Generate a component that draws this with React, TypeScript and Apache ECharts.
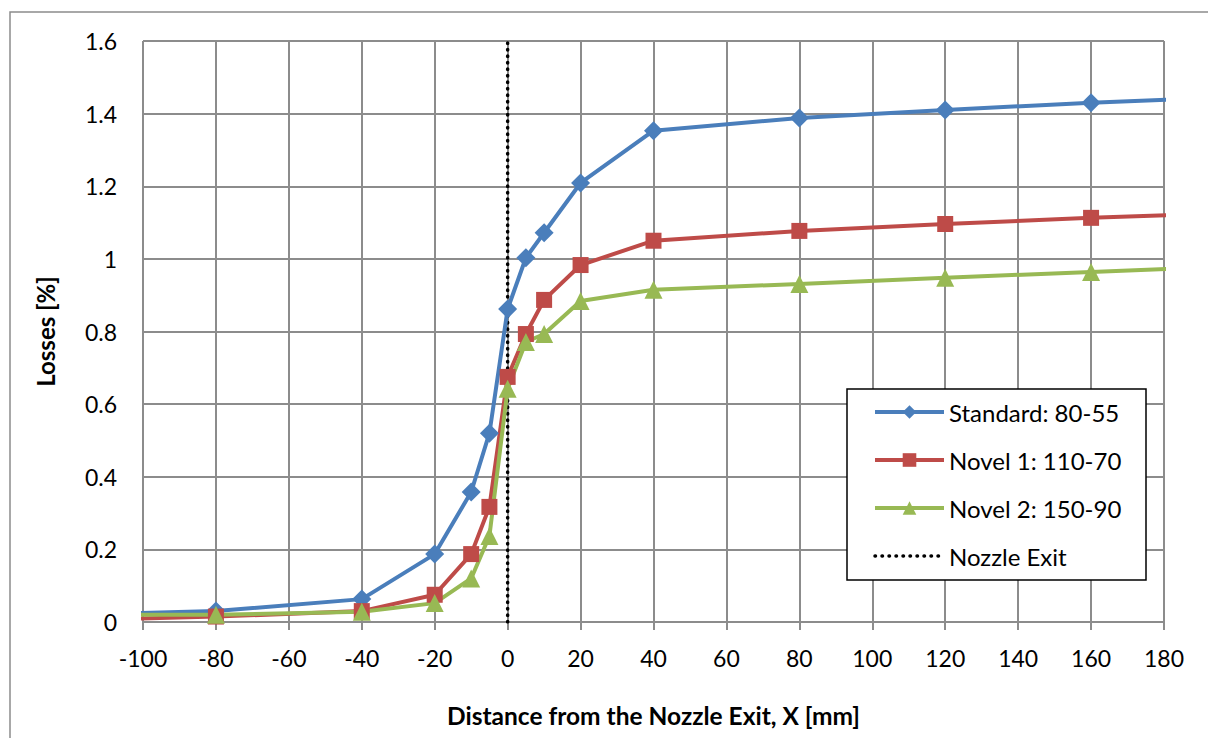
import React, { useEffect, useRef } from "react";
import * as echarts from "echarts";

const xValues = [-120, -80, -40, -20, -10, -5, 0, 5, 10, 20, 40, 80, 120, 160, 200];
const standardLoss = [0.02, 0.03, 0.063, 0.187, 0.358, 0.52, 0.862, 1.003, 1.072, 1.209, 1.353, 1.388, 1.41, 1.43, 1.446];
const novel1Loss = [0.005, 0.015, 0.03, 0.075, 0.187, 0.317, 0.675, 0.793, 0.887, 0.983, 1.05, 1.077, 1.096, 1.113, 1.127];
const novel2Loss = [0.02, 0.02, 0.028, 0.052, 0.12, 0.237, 0.642, 0.771, 0.793, 0.884, 0.915, 0.931, 0.948, 0.964, 0.98];
const nozzleX = [0, 0];
const nozzleY = [0, 1.6];

const seriesNames = ["Standard: 80-55", "Novel 1: 110-70", "Novel 2: 150-90", "Nozzle Exit"];
const colors = ["#4A7EBB", "#BE4B48", "#98B954", "#000000"];

const FONT = "Lato";
const FS = 23;

export default function App() {
  const ref = useRef<HTMLDivElement>(null);
  useEffect(() => {
    document.body.style.margin = "0";
    const chart = echarts.init(ref.current!, null, { renderer: "svg" });
    const pair = (ys: number[]) => xValues.map((x, i) => [x, ys[i]]);
    const mk = (name: string, ys: number[], color: string, symbol: string, size: number) => ({
      name,
      type: "line",
      data: pair(ys),
      symbol,
      symbolSize: size,
      clip: true,
      itemStyle: { color },
      lineStyle: { color, width: 4 },
      z: 2,
    });
    chart.setOption({
      animation: false,
      textStyle: { fontFamily: FONT },
      grid: { left: 143, top: 41, width: 1021, height: 581 },
      graphic: [
        {
          type: "rect",
          shape: { x: 10, y: 12, width: 1240, height: 760 },
          style: { fill: "none", stroke: "#8c8c8c", lineWidth: 1.5 },
          silent: true,
          z: 0,
        },
        {
          type: "rect",
          shape: { x: 847, y: 389, width: 299, height: 191 },
          style: { fill: "#fff", stroke: "#000", lineWidth: 1.5 },
          silent: true,
          z: 3,
        },
      ],
      xAxis: {
        type: "value",
        min: -100,
        max: 180,
        interval: 20,
        name: "Distance from the Nozzle Exit, X [mm]",
        nameLocation: "middle",
        nameGap: 81,
        nameTextStyle: { fontSize: 24.5, fontWeight: "bold", color: "#000", fontFamily: FONT },
        axisLine: { show: true, lineStyle: { color: "#8c8c8c", width: 2 } },
        axisTick: { show: true, length: 8, lineStyle: { color: "#8c8c8c", width: 2 } },
        axisLabel: { fontSize: FS, color: "#000", margin: 24, fontFamily: FONT },
        splitLine: { show: true, lineStyle: { color: "#8c8c8c", width: 2 } },
      },
      yAxis: {
        type: "value",
        min: 0,
        max: 1.6,
        interval: 0.2,
        name: "Losses [%]",
        nameLocation: "middle",
        nameGap: 86,
        nameRotate: 90,
        nameTextStyle: { fontSize: 24, fontWeight: "bold", color: "#000", fontFamily: FONT },
        axisLine: { show: true, lineStyle: { color: "#8c8c8c", width: 2 } },
        axisTick: { show: false },
        axisLabel: { fontSize: FS, color: "#000", margin: 26, fontFamily: FONT },
        splitLine: { show: true, lineStyle: { color: "#8c8c8c", width: 2 } },
      },
      legend: {
        orient: "vertical",
        left: 873,
        top: 400,
        padding: 0,
        itemGap: 24,
        itemWidth: 69,
        itemHeight: 17,
        z: 4,
        textStyle: { fontSize: 24, lineHeight: 24, color: "#000", fontFamily: FONT },
        data: [
          { name: seriesNames[0], lineStyle: { width: 4 } },
          { name: seriesNames[1], lineStyle: { width: 4 } },
          { name: seriesNames[2], lineStyle: { width: 4 } },
          { name: seriesNames[3], itemStyle: { opacity: 0 }, lineStyle: { width: 3.5, type: [0.5, 6.5], cap: "round" } },
        ],
      },
      series: [
        mk(seriesNames[0], standardLoss, colors[0], "diamond", 19),
        mk(seriesNames[1], novel1Loss, colors[1], "rect", 16),
        mk(seriesNames[2], novel2Loss, colors[2], "triangle", 18),
        {
          name: seriesNames[3],
          type: "line",
          data: nozzleX.map((x, i) => [x, nozzleY[i]]),
          symbol: "none",
          itemStyle: { color: "#000" },
          lineStyle: { color: "#000", width: 3.5, type: [0.5, 6], cap: "round" },
          z: 1,
        },
      ],
    });
    return () => chart.dispose();
  }, []);
  return <div ref={ref} style={{ width: 1208, height: 738, position: "absolute", left: 0, top: 0 }} />;
}
